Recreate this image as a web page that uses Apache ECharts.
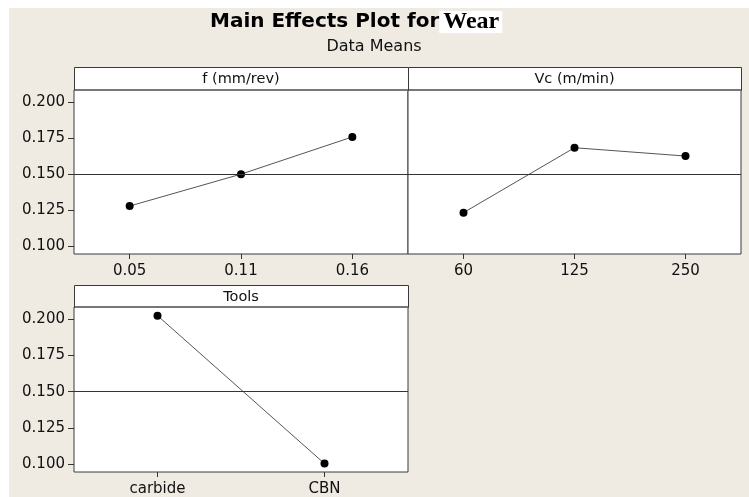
<!DOCTYPE html>
<html>
<head>
<meta charset="utf-8">
<script src="https://cdn.jsdelivr.net/npm/echarts@6/dist/echarts.min.js"></script>
<style>html,body{margin:0;padding:0;background:#fff;}#c{width:749px;height:497px;}</style>
</head>
<body>
<div id="c"></div>
<script>
// Data
const fCategories = ['0.05', '0.11', '0.16'];
const fMeans = [0.1278, 0.1500, 0.1759];
const vcCategories = ['60', '125', '250'];
const vcMeans = [0.1232, 0.1684, 0.1626];
const toolCategories = ['carbide', 'CBN'];
const toolMeans = [0.2026, 0.1002];
const yTicks = [0.100, 0.125, 0.150, 0.175, 0.200];
const panelTitles = ['f (mm/rev)', 'Vc (m/min)', 'Tools'];

const avg = a => a.reduce((s, v) => s + v, 0) / a.length;
const meanLine = (avg(fMeans) + avg(vcMeans) + avg(toolMeans)) / 3;

const FONT = 'DejaVu Sans';
const grids = [
  {left: 74, top: 90, width: 334, height: 164},
  {left: 408, top: 90, width: 333, height: 164},
  {left: 74, top: 307, width: 334, height: 165}
];
const headers = [
  {x: 74, y: 67, w: 334, h: 23},
  {x: 408, y: 67, w: 333, h: 23},
  {x: 74, y: 285, w: 334, h: 22}
];
const cats = [fCategories, vcCategories, toolCategories];
const vals = [fMeans, vcMeans, toolMeans];

const chart = echarts.init(document.getElementById('c'), null, {renderer: 'canvas'});

const graphic = [
  {type: 'rect', shape: {x: 9, y: 8, width: 740, height: 489}, style: {fill: '#EFEBE2'}, z: -10, silent: true}
];
headers.forEach((h, i) => {
  graphic.push({type: 'rect', shape: {x: h.x + 0.5, y: h.y + 0.5, width: h.w, height: h.h}, style: {fill: '#fff', stroke: '#3a3a3a', lineWidth: 1}, z: 1});
  graphic.push({type: 'line', shape: {x1: h.x + 1, y1: h.y + h.h, x2: h.x + h.w, y2: h.y + h.h}, style: {stroke: '#777', lineWidth: 2}, z: 2});
  graphic.push({type: 'text', x: h.x + h.w / 2, y: h.y + h.h / 2 + 1, style: {text: panelTitles[i], fill: '#111', font: '14.5px "' + FONT + '"', align: 'center', verticalAlign: 'middle'}, z: 3});
});

const option = {
  backgroundColor: '#ffffff',
  animation: false,
  title: [{
    text: '{a|Main Effects Plot for}{b|Wear}',
    left: 205, top: 6,
    textStyle: {
      rich: {
        a: {fontFamily: FONT, fontWeight: 'bold', fontSize: 20, color: '#000'},
        b: {fontFamily: 'Liberation Serif', fontSize: 24, color: '#000', backgroundColor: '#fff', padding: [0, 3, 0, 4], height: 22}
      }
    }
  }, {
    text: 'Data Means',
    left: 369, top: 34, textAlign: 'center',
    textStyle: {fontFamily: FONT, fontSize: 16, fontWeight: 'normal', color: '#111'}
  }],
  graphic: graphic,
  grid: grids.map(g => Object.assign({show: true, backgroundColor: '#fff', borderColor: '#3a3a3a', borderWidth: 1}, g)),
  xAxis: cats.map((c, i) => ({
    type: 'category', gridIndex: i, data: c, boundaryGap: true,
    axisLine: {show: false},
    axisTick: {show: true, alignWithLabel: true, length: 5, lineStyle: {color: '#333'}},
    axisLabel: {color: '#111', fontFamily: FONT, fontSize: 15, margin: 10},
    splitLine: {show: false}
  })),
  yAxis: cats.map((c, i) => ({
    type: 'value', gridIndex: i, min: 0.0944, max: 0.2086,
    axisLine: {show: false},
    axisTick: {show: i !== 1, length: 6, customValues: yTicks, lineStyle: {color: '#333'}},
    axisLabel: {show: i !== 1, customValues: yTicks, color: '#111', fontFamily: FONT, fontSize: 15, margin: 9, formatter: v => v.toFixed(3)},
    splitLine: {show: false}
  })),
  series: vals.map((v, i) => ({
    type: 'line', xAxisIndex: i, yAxisIndex: i, data: v,
    symbol: 'circle', symbolSize: 8,
    itemStyle: {color: '#000'},
    lineStyle: {color: '#555', width: 1},
    markLine: {
      silent: true, symbol: 'none', label: {show: false},
      lineStyle: {color: '#333', width: 1, type: 'solid'},
      data: [{yAxis: meanLine}]
    }
  }))
};
chart.setOption(option);
</script>
</body>
</html>
